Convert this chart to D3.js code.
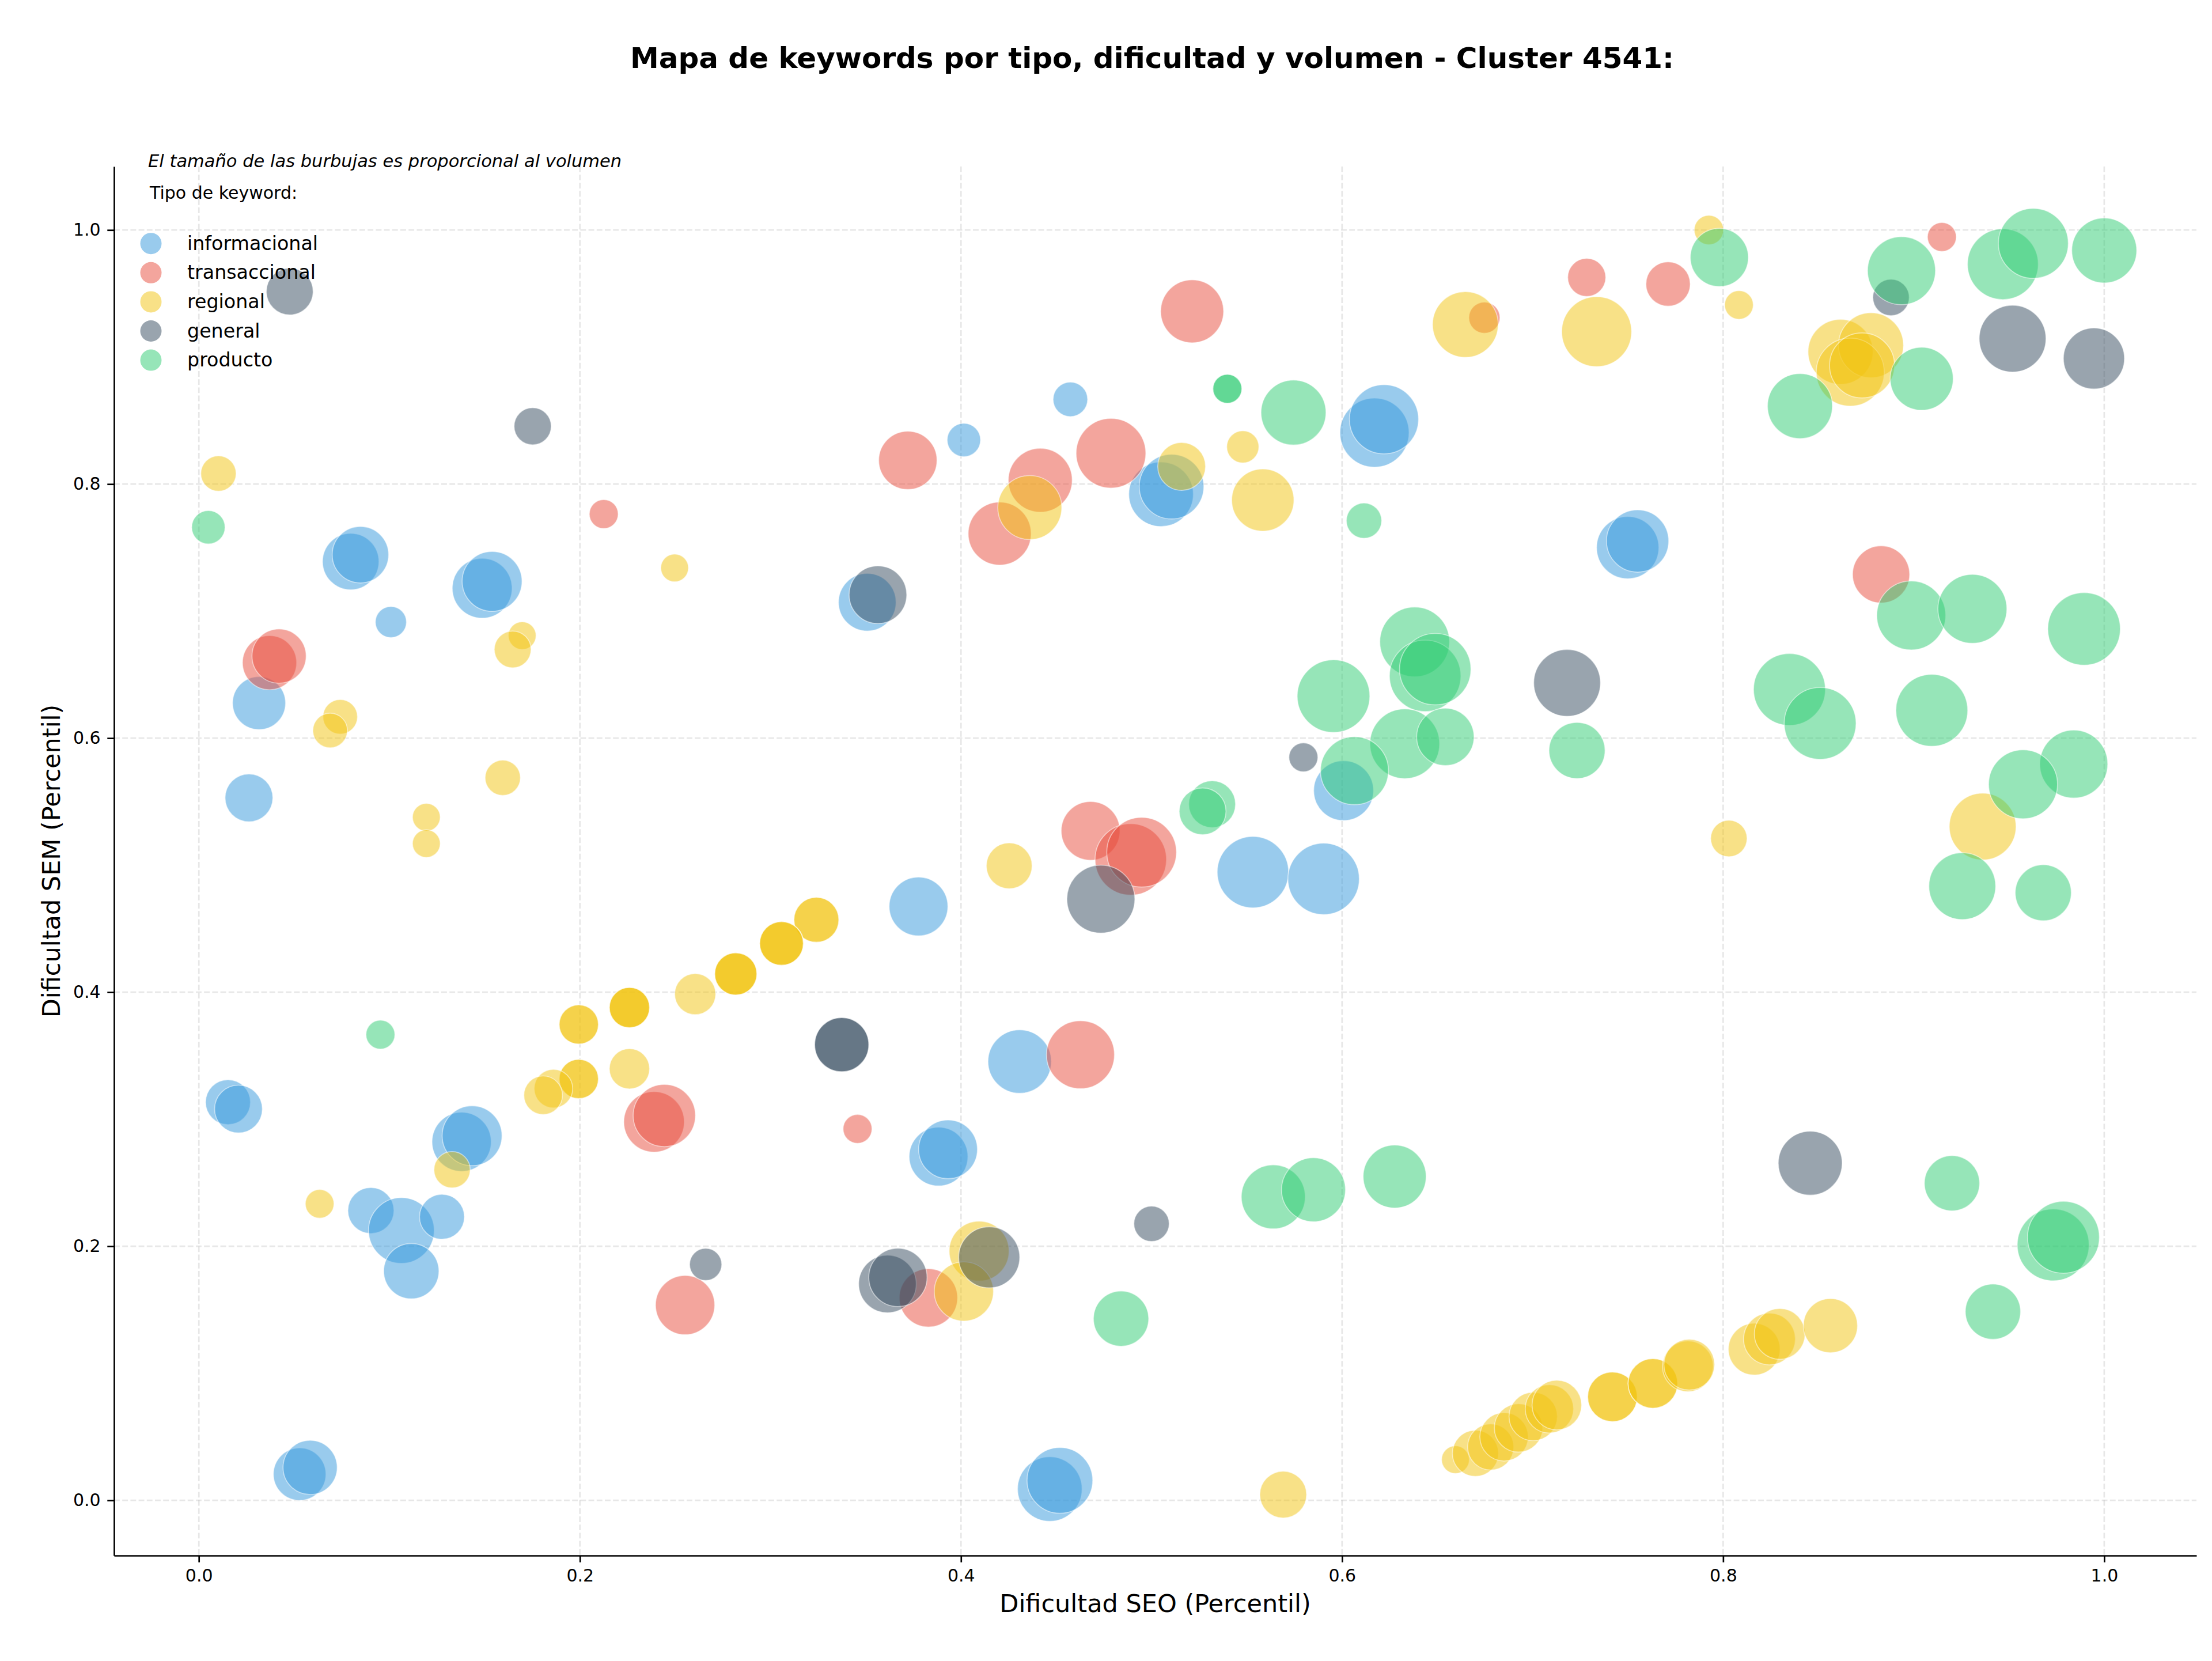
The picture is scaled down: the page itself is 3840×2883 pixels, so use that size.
<!DOCTYPE html>
<html>
<head>
<meta charset="utf-8">
<script src="https://cdnjs.cloudflare.com/ajax/libs/d3/7.8.5/d3.min.js"></script>
<style>
body { margin: 0; background: #fff; }
text { font-family: "DejaVu Sans", sans-serif; }
</style>
</head>
<body>
<div id="chart"></div>
<script>
var width = 3840
var height = 2883
var margin = {top: 289, right: 27, bottom: 183, left: 198}

var tipos = ["informacional", "transaccional", "regional", "general", "producto"]
var colores = ["#3498db", "#e74c3c", "#f1c40f", "#34495e", "#2ecc71"]
var ticks = [0, 0.2, 0.4, 0.6, 0.8, 1.0]

// [dificultad SEO, dificultad SEM, volumen]
var informacional = [
  [0.0797,0.739,2400],[0.0848,0.7444,2400],[0.1008,0.6914,730],[0.1487,0.718,2700],[0.1539,0.7234,2700],
  [0.0316,0.6276,2120],[0.0263,0.553,1720],[0.0153,0.3134,1520],[0.0208,0.308,1720],[0.1379,0.2822,2640],
  [0.1434,0.287,2700],[0.0903,0.2281,1600],[0.1063,0.2124,3250],[0.1276,0.2232,1520],[0.1115,0.1804,2300],
  [0.0529,0.0206,2080],[0.0584,0.0259,2210],[0.3508,0.707,2500],[0.4015,0.8347,840],[0.4574,0.8667,900],
  [0.505,0.792,3140],[0.5105,0.798,3140],[0.617,0.8405,3600],[0.622,0.851,3600],[0.3777,0.4675,2600],
  [0.4308,0.3454,3030],[0.3882,0.2706,2600],[0.3932,0.2763,2600],[0.4466,0.0089,3140],[0.4519,0.0157,3250],
  [0.5532,0.4945,3840],[0.5903,0.4892,3840],[0.6008,0.5587,2700],[0.7499,0.75,2920],[0.7551,0.7552,2920]
]
var transaccional = [
  [0.0371,0.6594,2210],[0.0421,0.6646,2210],[0.2125,0.7764,630],[0.3721,0.8187,2560],[0.4203,0.761,2990],
  [0.4416,0.803,3080],[0.4787,0.8243,3660],[0.5213,0.936,2990],[0.6747,0.931,730],[0.7284,0.9627,1090],
  [0.7711,0.9575,1480],[0.9148,0.9945,630],[0.8829,0.7289,2460],[0.2389,0.2979,2760],[0.2443,0.3029,2920],
  [0.2552,0.1537,2640],[0.3457,0.2924,630],[0.3829,0.1594,2560],[0.4627,0.3508,3480],[0.468,0.527,2600],
  [0.4891,0.5045,3840],[0.4948,0.5102,3660]
]
var regional = [
  [0.0103,0.8083,940],[0.2497,0.734,580],[0.1697,0.6807,580],[0.1647,0.6698,1020],[0.0742,0.6168,900],
  [0.0689,0.606,900],[0.1595,0.5688,940],[0.1194,0.5377,580],[0.1194,0.517,580],[0.4361,0.7815,3080],
  [0.5158,0.8139,1720],[0.5479,0.8293,780],[0.5584,0.7874,2920],[0.6647,0.9256,3250],[0.7336,0.92,3680],
  [0.7925,1.0,650],[0.8083,0.941,620],[0.8616,0.9041,3180],[0.8776,0.9093,3180],[0.8667,0.8881,3480],
  [0.8729,0.8934,3180],[0.9362,0.5304,3360],[0.803,0.521,1000],[0.4253,0.4995,1580],
  [0.3241,0.457,1520],[0.3241,0.457,1520],[0.3058,0.4384,1440],[0.3058,0.4384,1440],[0.3058,0.4384,1440],
  [0.2818,0.4144,1340],[0.2818,0.4144,1340],[0.2818,0.4144,1340],[0.2605,0.3985,1270],
  [0.226,0.3879,1220],[0.226,0.3879,1220],[0.226,0.3879,1220],[0.1994,0.3746,1160],[0.1994,0.3746,1160],
  [0.226,0.3397,1220],[0.1994,0.3317,1160],[0.1994,0.3317,1160],[0.1861,0.3241,1120],[0.1807,0.3189,1120],
  [0.1329,0.2602,990],[0.0634,0.2334,620],[0.4095,0.1962,2700],[0.4015,0.1644,2640],[0.5691,0.0045,1650],
  [0.6595,0.032,580],[0.670,0.037,1600],[0.678,0.042,1600],[0.685,0.050,1760],[0.6926,0.057,1760],
  [0.7003,0.066,1760],[0.7088,0.072,1760],[0.7127,0.075,1850],[0.7419,0.0815,1850],[0.7419,0.0815,1850],
  [0.7631,0.092,1850],[0.7631,0.092,1850],[0.7815,0.1055,1940],[0.7822,0.1068,1940],[0.8163,0.119,2020],
  [0.8243,0.127,2020],[0.8297,0.131,1940],[0.8563,0.1375,2210]
]
var general = [
  [0.0477,0.9516,1650],[0.1752,0.8455,1040],[0.3564,0.7129,2500],[0.3374,0.3587,2210],[0.3374,0.3587,2210],
  [0.266,0.1857,780],[0.3614,0.1703,2500],[0.3669,0.1755,2560],[0.4148,0.1913,2810],[0.4734,0.4733,3480],
  [0.5,0.2177,940],[0.5797,0.5849,630],[0.7181,0.6435,3360],[0.8457,0.2654,3080],[0.8881,0.9469,1000],
  [0.9519,0.9145,3360],[0.9946,0.8989,2810]
]
var producto = [
  [0.005,0.766,840],[0.0953,0.3666,630],[0.5398,0.875,630],[0.5398,0.875,630],[0.5745,0.8563,3180],
  [0.6115,0.7712,940],[0.5955,0.6331,3970],[0.6381,0.6758,3660],[0.6436,0.649,3840],[0.6489,0.6543,3840],
  [0.6329,0.5956,3660],[0.6542,0.601,2480],[0.6065,0.5744,3480],[0.5318,0.548,1650],[0.5268,0.5424,1650],
  [0.484,0.143,2300],[0.5639,0.2389,3080],[0.585,0.2445,3080],[0.6276,0.2549,2990],[0.7233,0.5903,2370],
  [0.798,0.9784,2540],[0.8936,0.968,3480],[0.9468,0.9731,3780],[0.9628,0.9895,3680],[1.0,0.9839,3180],
  [0.9042,0.8829,2990],[0.8403,0.8614,3180],[0.8987,0.6966,3580],[0.9308,0.7018,3580],[0.9894,0.686,3970],
  [0.8348,0.6383,3890],[0.8509,0.6116,3890],[0.9095,0.6219,3890],[0.984,0.5796,3480],[0.9574,0.5637,3580],
  [0.9255,0.4835,3360],[0.968,0.4783,2370],[0.9201,0.2496,2300],[0.9732,0.2011,3890],[0.9786,0.2071,3890],
  [0.9416,0.1485,2300]
]
var series = [informacional, transaccional, regional, general, producto]

var x = d3.scaleLinear().domain([-0.0445, 1.0484]).range([margin.left, width - margin.right])
var y = d3.scaleLinear().domain([-0.0435, 1.05]).range([height - margin.bottom, margin.top])
var r = d3.scaleSqrt().domain([0, 4000]).range([0, 63.25])
var color = d3.scaleOrdinal().domain(tipos).range(colores)
var f = d3.format(".1f")

var svg = d3.select("#chart")
    .append("svg")
    .attr("width", width)
    .attr("height", height)

svg.append("rect").attr("width", width).attr("height", height).attr("fill", "#fff")

// grid
var grid = svg.append("g")
grid.selectAll(".gx")
    .data(ticks)
    .enter().append("line")
    .attr("x1", function(d) { return x(d) })
    .attr("x2", function(d) { return x(d) })
    .attr("y1", margin.top)
    .attr("y2", height - margin.bottom)
grid.selectAll(".gy")
    .data(ticks)
    .enter().append("line")
    .attr("x1", margin.left)
    .attr("x2", width - margin.right)
    .attr("y1", function(d) { return y(d) })
    .attr("y2", function(d) { return y(d) })
grid.selectAll("line")
    .attr("stroke", "#b0b0b0")
    .attr("stroke-opacity", 0.3)
    .attr("stroke-width", 2.7)
    .attr("stroke-dasharray", "9.9,4.3")

// bubbles, one layer per keyword type
tipos.forEach(function(t, i) {
    svg.append("g")
      .selectAll("circle")
      .data(series[i])
      .enter().append("circle")
        .attr("cx", function(d) { return x(d[0]) })
        .attr("cy", function(d) { return y(d[1]) })
        .attr("r", function(d) { return r(d[2]) })
        .attr("fill", color(t))
        .attr("fill-opacity", 0.5)
        .attr("stroke", "#fff")
        .attr("stroke-opacity", 0.5)
        .attr("stroke-width", 1.7)
})

// axes
var xAxis = svg.append("g")
    .attr("transform", "translate(0," + (height - margin.bottom) + ")")
    .call(d3.axisBottom(x).tickValues(ticks).tickFormat(f).tickSize(11.7).tickPadding(11.7).tickSizeOuter(0))
var yAxis = svg.append("g")
    .attr("transform", "translate(" + margin.left + ",0)")
    .call(d3.axisLeft(y).tickValues(ticks).tickFormat(f).tickSize(11.7).tickPadding(11.7).tickSizeOuter(0))
svg.selectAll(".domain, .tick line").attr("stroke", "#000").attr("stroke-width", 2.7)
svg.selectAll(".tick text").attr("font-size", 30).attr("font-family", "DejaVu Sans").attr("fill", "#000")

svg.append("text")
    .attr("x", (margin.left + width - margin.right) / 2)
    .attr("y", 2798)
    .attr("text-anchor", "middle")
    .style("font-size", "43px")
    .text("Dificultad SEO (Percentil)")
svg.append("text")
    .attr("transform", "translate(104," + (margin.top + height - margin.bottom) / 2 + ") rotate(-90)")
    .attr("text-anchor", "middle")
    .style("font-size", "43px")
    .text("Dificultad SEM (Percentil)")

// title + note
svg.append("text")
    .attr("x", 2000)
    .attr("y", 118)
    .attr("text-anchor", "middle")
    .style("font-size", "50px")
    .style("font-weight", "bold")
    .text("Mapa de keywords por tipo, dificultad y volumen - Cluster 4541:")
svg.append("text")
    .attr("x", 257)
    .attr("y", 290)
    .style("font-size", "30.5px")
    .style("font-style", "italic")
    .text("El tamaño de las burbujas es proporcional al volumen")

// legend
var legend = svg.append("g")
legend.append("text")
    .attr("x", 260)
    .attr("y", 345)
    .style("font-size", "30px")
    .text("Tipo de keyword:")
var item = legend.selectAll(".item")
    .data(tipos)
    .enter().append("g")
    .attr("transform", function(d, i) { return "translate(0," + (422.7 + i * 50.6) + ")" })
item.append("circle")
    .attr("cx", 262)
    .attr("r", 18.5)
    .attr("fill", function(d) { return color(d) })
    .attr("fill-opacity", 0.5)
item.append("text")
    .attr("x", 325)
    .attr("y", 11)
    .style("font-size", "33.3px")
    .text(function(d) { return d })
</script>
</body>
</html>
